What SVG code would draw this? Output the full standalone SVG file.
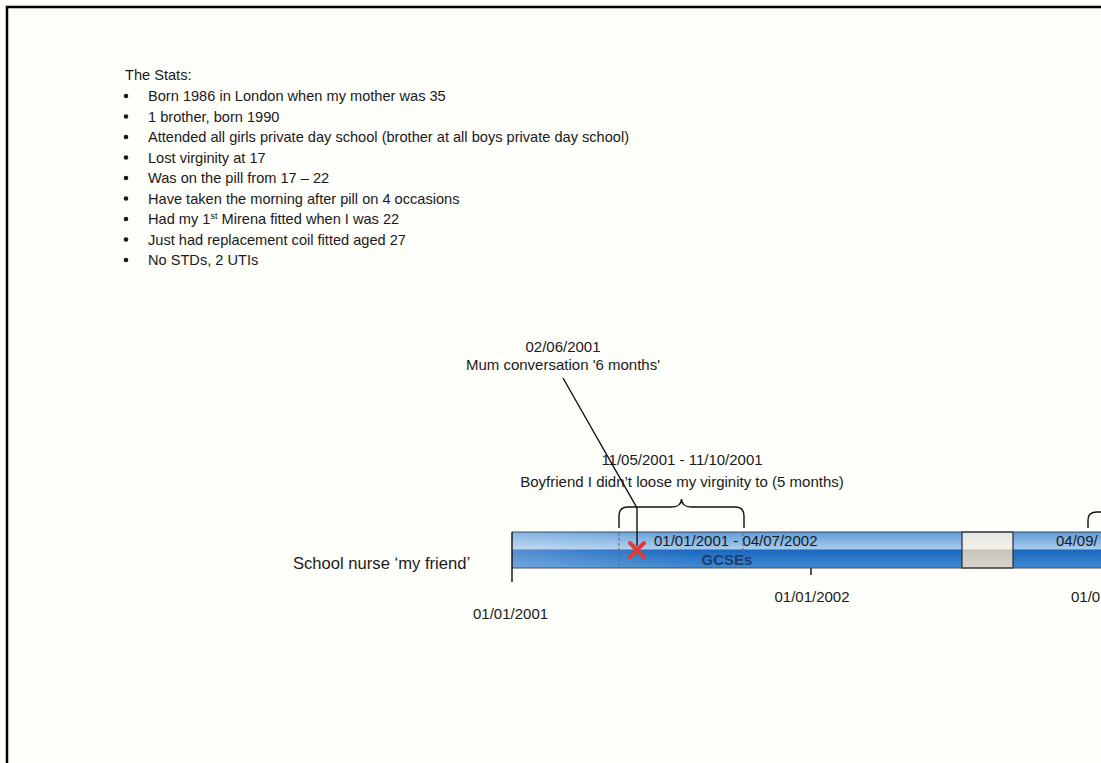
<svg xmlns="http://www.w3.org/2000/svg" width="1101" height="763" viewBox="0 0 1101 763">
  <defs>
    <style>
      .stat { font-family: "Liberation Sans", Arial, sans-serif; font-size: 14.6px; fill: #1a1a1a; }
      .lbl { font-family: "Liberation Sans", Arial, sans-serif; font-size: 15px; fill: #1a1a1a; }
      .mid { text-anchor: middle; }
      .line { fill: none; stroke: #111; stroke-width: 1.4; }
      .dash { stroke: #5a6a7a; stroke-width: 1; stroke-dasharray: 3 2; }
    </style>
    <linearGradient id="barBlue" x1="0" y1="0" x2="0" y2="1">
      <stop offset="0" stop-color="#5f9cd8"/>
      <stop offset="0.47" stop-color="#aacbec"/>
      <stop offset="0.5" stop-color="#1a68bf"/>
      <stop offset="1" stop-color="#428bd2"/>
    </linearGradient>
    <linearGradient id="barGray" x1="0" y1="0" x2="0" y2="1">
      <stop offset="0" stop-color="#e6e4de"/>
      <stop offset="0.47" stop-color="#f3f1eb"/>
      <stop offset="0.5" stop-color="#c8c4ba"/>
      <stop offset="1" stop-color="#d8d5cd"/>
    </linearGradient>
    <linearGradient id="barFade" x1="0" y1="0" x2="1" y2="0">
      <stop offset="0" stop-color="#ffffff" stop-opacity="0.25"/>
      <stop offset="0.3" stop-color="#ffffff" stop-opacity="0"/>
    </linearGradient>
  </defs>

  <rect width="1101" height="763" fill="#fefefb"/>

  <!-- page frame -->
  <path d="M7,763 L7,7 L1101,7" fill="none" stroke="#000" stroke-width="2.5"/>

  <!-- stats list -->
  <g id="stats">
    <text class="stat" x="125" y="80">The Stats:</text>
    <g fill="#1a1a1a">
      <circle cx="126" cy="96" r="2.3"/>
      <circle cx="126" cy="116.5" r="2.3"/>
      <circle cx="126" cy="137" r="2.3"/>
      <circle cx="126" cy="157.5" r="2.3"/>
      <circle cx="126" cy="178" r="2.3"/>
      <circle cx="126" cy="198.5" r="2.3"/>
      <circle cx="126" cy="219" r="2.3"/>
      <circle cx="126" cy="239.5" r="2.3"/>
      <circle cx="126" cy="260" r="2.3"/>
    </g>
    <text class="stat" x="148" y="101">Born 1986 in London when my mother was 35</text>
    <text class="stat" x="148" y="121.5">1 brother, born 1990</text>
    <text class="stat" x="148" y="142">Attended all girls private day school (brother at all boys private day school)</text>
    <text class="stat" x="148" y="162.5">Lost virginity at 17</text>
    <text class="stat" x="148" y="183">Was on the pill from 17 – 22</text>
    <text class="stat" x="148" y="203.5">Have taken the morning after pill on 4 occasions</text>
    <text class="stat" x="148" y="224">Had my 1<tspan font-size="9" dy="-5">st</tspan><tspan dy="5"> Mirena fitted when I was 22</tspan></text>
    <text class="stat" x="148" y="244.5">Just had replacement coil fitted aged 27</text>
    <text class="stat" x="148" y="265">No STDs, 2 UTIs</text>
  </g>

  <!-- timeline bar -->
  <g id="timeline">
    <rect x="512" y="532" width="600" height="36" fill="url(#barBlue)"/>
    <rect x="512" y="532" width="600" height="36" fill="url(#barFade)"/>
    <rect x="962" y="532" width="51" height="36" fill="url(#barGray)" stroke="#2a2a2a" stroke-width="1.2"/>
    <line x1="512" y1="532" x2="1101" y2="532" stroke="#3a4a5a" stroke-width="1"/>
    <line x1="512" y1="568" x2="1101" y2="568" stroke="#4a4f55" stroke-width="1.2"/>
    <line x1="512" y1="532" x2="512" y2="582" stroke="#111" stroke-width="1.4"/>
    <line x1="811" y1="568" x2="811" y2="575" stroke="#111" stroke-width="1.4"/>
    <line class="dash" x1="619" y1="533" x2="619" y2="568"/>
    <line class="dash" x1="743" y1="533" x2="743" y2="568"/>
  </g>

  <g id="gcse">
    <text class="lbl" x="654" y="546">01/01/2001 - 04/07/2002</text>
    <text class="lbl mid" x="727" y="565" font-weight="bold" style="fill:#1b3d70">GCSEs</text>
  </g>

  <g id="next-period">
    <text class="lbl" x="1056" y="546">04/09/</text>
  </g>

  <g id="axis-labels">
    <text class="lbl mid" x="812" y="602">01/01/2002</text>
    <text class="lbl" x="473" y="619">01/01/2001</text>
    <text class="lbl" x="1071" y="602">01/0</text>
  </g>

  <g id="school-nurse">
    <text x="293" y="569" font-family="Liberation Sans, Arial, sans-serif" font-size="16.6" fill="#1a1a1a">School nurse ‘my friend’</text>
  </g>

  <g id="boyfriend">
    <text class="lbl mid" x="682" y="465">11/05/2001 - 11/10/2001</text>
    <text class="lbl mid" x="682" y="487">Boyfriend I didn’t loose my virginity to (5 months)</text>
  </g>

  <g id="mum-conversation">
    <text class="lbl mid" x="563" y="352">02/06/2001</text>
    <text class="lbl mid" x="563" y="370">Mum conversation '6 months'</text>
  </g>

  <g id="mum-marker">
    <path d="M630,543 L644,557 M644,543 L630,557" stroke="#e23b33" stroke-width="4" stroke-linecap="round"/>
  </g>

  <!-- connectors -->
  <g id="connectors">
    <polyline class="line" points="563,378 637,508 637,546"/>
    <path class="line" d="M619,528 L619,516 Q619,507 628,507 L672,507 Q681,507 681.5,499 Q682,507 691,507 L735,507 Q744,507 744,516 L744,528"/>
    <path class="line" d="M1088,528 L1088,520 Q1088,512 1097,512 L1101,512"/>
  </g>
</svg>
